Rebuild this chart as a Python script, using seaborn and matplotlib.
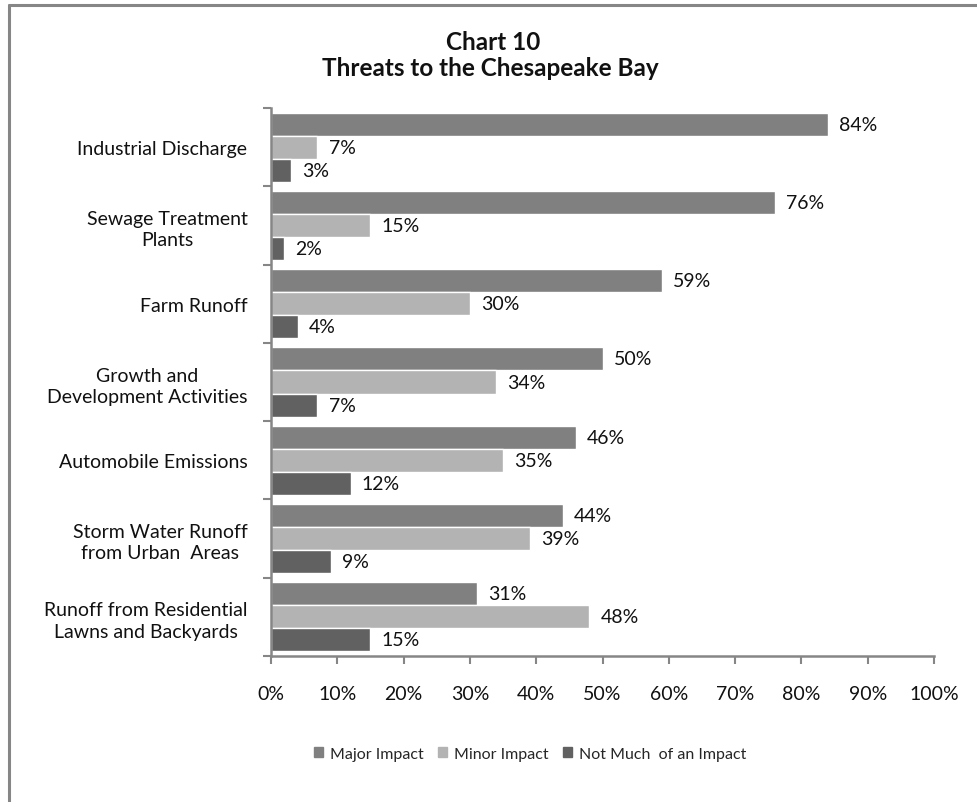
import matplotlib
matplotlib.use("Agg")
import matplotlib.pyplot as plt
from matplotlib.lines import Line2D
from matplotlib.ticker import FuncFormatter, FixedLocator
import pandas as pd
import seaborn as sns

categories = [
    "Industrial Discharge",
    "Sewage Treatment\nPlants",
    "Farm Runoff",
    "Growth and\nDevelopment Activities",
    "Automobile Emissions",
    "Storm Water Runoff\nfrom Urban  Areas",
    "Runoff from Residential\nLawns and Backyards",
]
series = ["Major Impact", "Minor Impact", "Not Much  of an Impact"]
major_impact = [84, 76, 59, 50, 46, 44, 31]
minor_impact = [7, 15, 30, 34, 35, 39, 48]
not_much_impact = [3, 2, 4, 7, 12, 9, 15]
colors = ["#808080", "#b3b3b3", "#616161"]
x_ticks = [0, 10, 20, 30, 40, 50, 60, 70, 80, 90, 100]

rows = []
for name, vals in zip(series, [major_impact, minor_impact, not_much_impact]):
    for cat, v in zip(categories, vals):
        rows.append({"Threat": cat, "Share": v, "Response": name})
df = pd.DataFrame(rows)

sns.set_theme(style="white")
plt.rcParams["font.family"] = ["Lato", "DejaVu Sans"]
FS = 14
GRAY = "#868686"

fig = plt.figure(figsize=(9.77, 8.03), dpi=100)
ax = fig.add_axes([271 / 977, 1 - 657 / 803, (934 - 271) / 977, (657 - 109) / 803])

sns.barplot(data=df, y="Threat", x="Share", hue="Response", order=categories,
            hue_order=series, palette=colors, orient="h", width=0.885,
            saturation=1, ax=ax, legend=True)

for cont in ax.containers:
    ax.bar_label(cont, fmt="%d%%", padding=8, fontsize=FS, color="#111111")

ax.set_xlim(0, 100)
ax.set_ylim(len(categories) - 0.5, -0.5)
ax.set_xlabel("")
ax.set_ylabel("")
ax.xaxis.set_major_locator(FixedLocator(x_ticks))
ax.xaxis.set_major_formatter(FuncFormatter(lambda v, p: f"{v:.0f}%"))
ax.tick_params(axis="x", direction="out", length=6, width=1.5, color=GRAY,
               labelsize=FS, pad=15, bottom=True, labelcolor="#111111")

# category labels in the middle of each group, separator ticks on the boundaries
ax.set_yticks(range(len(categories)))
ax.set_yticklabels(categories)
ax.set_yticks([k - 0.5 for k in range(len(categories) + 1)], minor=True)
ax.tick_params(axis="y", which="major", length=0, pad=17, labelsize=FS,
               labelcolor="#111111")
ax.tick_params(axis="y", which="minor", direction="out", length=6, width=1.5,
               color=GRAY, left=True)
for lbl in ax.get_yticklabels():
    lbl.set_multialignment("center")
    lbl.set_linespacing(1.3)

for side in ["top", "right"]:
    ax.spines[side].set_visible(False)
for side in ["left", "bottom"]:
    ax.spines[side].set_color(GRAY)
    ax.spines[side].set_linewidth(1.8)

ax.legend_.remove()
handles = [plt.Rectangle((0, 0), 1, 1, color=c) for c in colors]
fig.legend(handles, series, loc="center", bbox_to_anchor=(530 / 977, 1 - 755 / 803),
           ncol=3, frameon=False, fontsize=11.5, handlelength=0.6,
           handleheight=0.6, handletextpad=0.4, columnspacing=0.9)

fig.text(493 / 977, 1 - 42 / 803, "Chart 10", ha="center", va="center",
         fontsize=17.5, fontweight="bold", color="#111111")
fig.text(490 / 977, 1 - 69 / 803, "Threats to the Chesapeake Bay", ha="center",
         va="center", fontsize=17.5, fontweight="bold", color="#111111")

# outer frame of the chart area
fig.add_artist(Line2D([9 / 977, 9 / 977], [0, 1 - 6 / 803], color=GRAY, lw=2.2))
fig.add_artist(Line2D([9 / 977, 1], [1 - 6 / 803, 1 - 6 / 803], color=GRAY, lw=2.2))

fig.savefig("out.png", dpi=100, facecolor="white")
